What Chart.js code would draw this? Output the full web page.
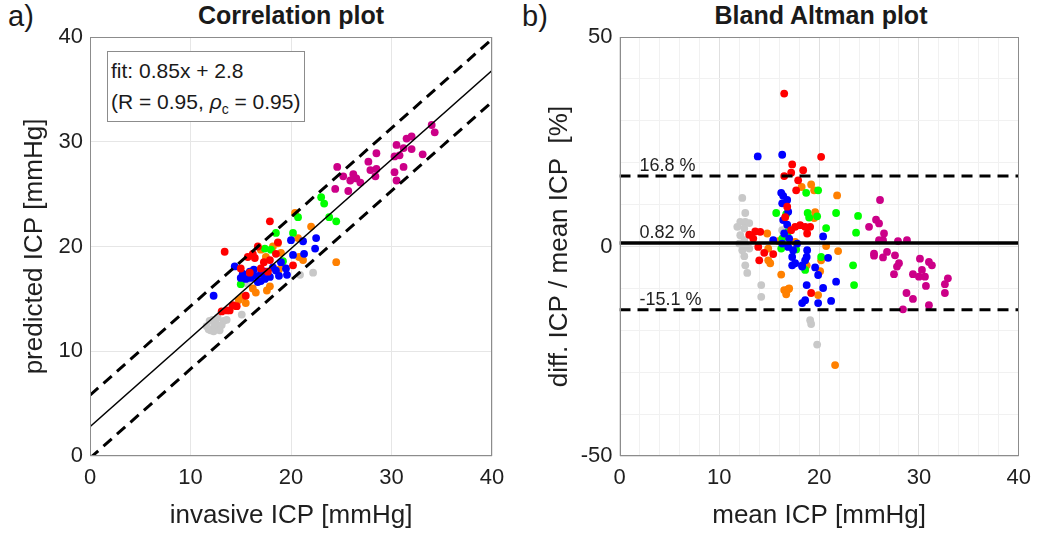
<!DOCTYPE html>
<html>
<head>
<meta charset="utf-8">
<script src="https://cdn.jsdelivr.net/npm/chart.js@4.4.1/dist/chart.umd.min.js"></script>
<style>
  body { margin: 0; background: #fff; width: 1040px; height: 533px; overflow: hidden; position: relative;
         font-family: "Liberation Sans", Arial, sans-serif; color: #1a1a1a; }
  .wrap { position: absolute; top: 0; width: 520px; height: 533px; }
  .tag { position: absolute; top: 0; font-size: 29px; }
  .title { position: absolute; top: 1px; width: 402px; text-align: center; font-weight: bold; font-size: 25px;
           font-family: "Liberation Sans Narrow", "Liberation Sans", Arial, sans-serif; }
  .fitbox { position: absolute; left: 107px; top: 51px; width: 198px; height: 71px; border: 1px solid #8c8c8c;
            background: #fff; font-size: 21px; line-height: 31px; padding: 3px 0 0 3px; box-sizing: border-box; z-index: 2; }
  .fitbox sub { font-size: 14px; vertical-align: -5px; }
</style>
</head>
<body>
<div class="tag" style="left:8px">a)</div>
<div class="tag" style="left:522px">b)</div>
<div class="title" style="left:90px">Correlation plot</div>
<div class="title" style="left:620px">Bland Altman plot</div>
<div class="fitbox">fit: 0.85x + 2.8<br>(R = 0.95, <i>ρ</i><sub>c</sub> = 0.95)</div>
<div class="wrap" style="left:0"><canvas id="corr" width="520" height="533"></canvas></div>
<div class="wrap" style="left:520px"><canvas id="ba" width="520" height="533"></canvas></div>
<script>
// correlation plot: [invasive ICP, predicted ICP]
const corrGray = [[11.6,12.4],[11.9,12.9],[12.2,13.0],[12.5,12.7],[12.8,12.2],[13.1,12.5],[12.0,12.0],[12.7,13.2],
  [13.3,12.9],[11.8,12.1],[12.4,12.4],[13.6,13.0],[12.9,12.0],[15.1,13.5],[20.9,17.3],[22.2,17.5],[12.3,11.9],[15.6,16.5]];
const corrRed = [[17.9,22.4],[13.4,19.5],[15.7,19.0],[16.7,20.0],[16.2,19.3],[18.5,19.3],[17.9,18.7],[17.0,17.9],
  [15.9,17.5],[15.0,17.9],[20.2,18.2],[18.7,20.4],[17.7,17.6],[15.5,15.3],[14.2,14.4],[13.6,13.9],[13.1,13.8],
  [13.9,13.9],[14.6,14.3],[16.4,18.9],[17.3,18.5]];
const corrBlue = [[12.3,15.3],[14.4,18.1],[15.2,17.4],[15.9,17.6],[16.4,17.2],[17.0,17.4],[17.9,17.1],[18.5,17.7],
  [19.5,17.9],[19.6,17.3],[20.0,20.6],[21.2,20.5],[22.5,20.8],[22.4,19.8],[21.3,19.3],[20.2,19.2],[17.4,16.9],
  [16.7,16.6],[15.5,16.9],[16.0,17.0],[17.0,16.7],[18.2,18.0],[19.0,18.5],[18.8,17.2],[16.3,17.8],[15.0,17.0],[17.5,17.6]];
const corrGreen = [[23.0,24.7],[23.3,24.1],[23.8,22.8],[24.5,22.4],[20.7,22.8],[20.2,21.3],[18.5,21.3],[18.0,19.7],
  [17.4,19.8],[15.0,16.4],[19.2,18.6]];
const corrOrange = [[20.4,23.2],[22.0,21.9],[18.7,20.3],[17.0,19.7],[20.7,20.8],[20.8,19.0],[21.2,18.7],[24.5,18.5],
  [19.1,18.4],[17.9,16.2],[17.6,15.8],[16.5,15.6],[15.2,15.2],[14.8,14.9],[15.5,14.6],[18.2,20.0],[19.0,19.4],
  [17.5,19.0],[16.2,16.0],[18.8,17.8],[14.5,14.3]];
const corrMagenta = [[34.0,31.6],[34.3,30.9],[32.0,30.5],[31.5,30.3],[30.5,29.7],[31.2,29.4],[32.0,29.3],[30.8,28.7],
  [30.3,28.6],[33.1,28.8],[28.5,28.9],[27.7,28.1],[28.5,27.4],[28.4,26.7],[27.9,27.3],[30.3,27.1],[31.2,27.6],
  [30.5,26.3],[24.6,27.6],[25.2,26.7],[26.2,26.9],[25.9,26.3],[26.5,26.5],[26.9,26.1],[25.7,25.3],[24.4,25.5]];
const corrLineX = [0, 40];
const fitY = [2.8, 36.8];
const upperY = [5.8, 39.8];
const lowerY = [-0.2, 33.8];

// Bland Altman plot: [mean ICP, diff %]
const baGray = [[12.3,11.6],[12.6,8.0],[12.1,5.9],[12.6,5.9],[13.0,5.6],[11.8,4.7],[12.5,4.3],[12.1,2.7],[12.5,1.5],
  [12.0,0.7],[12.6,0.3],[12.3,-0.9],[13.0,-0.5],[12.5,-2.3],[12.6,-4.5],[12.8,-6.3],[14.2,-9.2],[14.2,-12.0],
  [16.3,3.9],[19.1,-17.6],[19.2,-18.5],[19.8,-23.4]];
const baRed = [[16.5,36.5],[20.2,21.4],[17.3,19.6],[18.4,18.2],[17.2,17.6],[16.5,16.8],[17.9,15.8],[17.7,13.4],
  [16.8,9.5],[13.6,3.6],[14.1,3.5],[13.4,1.9],[13.9,-0.1],[14.5,-1.5],[14.0,-3.3],[15.4,-1.8],[17.6,4.7],[18.1,5.1],
  [18.6,4.7],[19.1,4.7],[18.8,3.1],[17.2,3.9],[19.2,-11.1],[16.6,7.0],[13.0,2.8]];
const baBlue = [[13.85,21.5],[16.3,21.9],[16.2,12.8],[16.4,12.1],[16.3,10.3],[16.8,11.1],[16.9,8.3],[16.4,6.3],
  [16.8,5.2],[16.5,3.1],[17.0,1.9],[16.3,0.7],[16.9,-0.1],[17.4,-0.9],[17.3,-2.5],[17.6,-4.0],[17.3,-4.5],[18.3,-4.5],
  [18.6,-3.3],[18.8,-0.9],[18.75,-2.5],[18.3,-4.8],[20.4,2.4],[20.9,-2.7],[19.6,-5.0],[19.9,-6.8],[18.75,-9.2],
  [20.4,-9.9],[21.7,-8.4],[21.2,-13.0],[19.9,-13.5],[18.3,-13.5],[18.6,-12.8],[15.4,1.5],[17.8,0.7]];
const baGreen = [[18.7,12.8],[19.9,13.4],[15.7,8.0],[16.7,7.7],[18.85,8.0],[19.0,6.9],[19.8,7.2],[20.7,4.4],
  [21.7,8.0],[23.9,7.3],[23.7,3.3],[16.9,3.5],[16.3,1.9],[16.2,-0.5],[17.7,-0.7],[18.6,-5.6],[20.2,-2.5],
  [23.4,-4.5],[23.5,-9.2]];
const baOrange = [[19.2,14.8],[18.25,14.2],[19.5,13.4],[21.8,12.2],[19.6,8.2],[19.5,6.8],[14.8,3.1],[15.9,1.3],
  [14.9,-0.5],[14.9,-3.3],[15.1,-4.0],[16.2,-6.7],[16.5,-10.4],[16.9,-10.2],[16.7,-11.4],[17.0,-10.0],[18.75,-4.5],
  [20.2,-3.3],[20.1,-5.9],[21.9,-1.1],[20.7,0.1],[19.9,-11.6],[21.6,-28.3],[17.6,1.1]];
const baMagenta = [[26.1,11.1],[25.7,6.4],[26.0,5.5],[25.0,4.7],[26.5,3.1],[26.0,1.5],[26.4,1.5],[27.9,1.3],
  [28.8,1.5],[25.5,-1.7],[25.5,-2.2],[26.8,-1.3],[26.4,-2.6],[27.6,-2.1],[28.0,-4.0],[27.8,-4.8],[27.5,-6.6],
  [29.4,-6.6],[30.0,-7.2],[30.6,-7.2],[30.3,-5.6],[30.1,-2.9],[31.0,-3.7],[31.3,-4.5],[30.7,-9.4],[32.9,-7.6],
  [32.6,-9.0],[32.6,-11.1],[28.75,-11.1],[29.4,-12.5],[31.0,-14.0],[28.4,-15.0]];
const baLineX = [0, 40];
const baMean = 0.82;
const baUpper = 16.8;
const baLower = -15.1;
const baLabels = ['16.8 %', '0.82 %', '-15.1 %'];
const baLabelX = 2;

const COLORS = { gray: '#c8c8c8', red: '#ff0000', blue: '#0000ff', green: '#00ff00', orange: '#ff8000', magenta: '#cc0088' };
const TEXT = '#1f1f1f';
const FONT = '"Liberation Sans", Arial, sans-serif';

const toPts = (arr) => arr.map(([x, y]) => ({ x, y }));
const dots = (arr, color) => ({ data: toPts(arr), backgroundColor: color, borderWidth: 0, pointRadius: 3.9, pointHoverRadius: 3.9 });
const line = (xs, ys, width, dash) => ({
  type: 'line', data: xs.map((x, i) => ({ x, y: ys[i] })), borderColor: '#000', borderWidth: width,
  borderDash: dash || [], pointRadius: 0, fill: false, tension: 0
});

const boxPlugin = {
  id: 'box',
  afterDraw(chart) {
    const { ctx, chartArea: a } = chart;
    ctx.save();
    ctx.strokeStyle = '#8c8c8c';
    ctx.lineWidth = 1;
    ctx.strokeRect(Math.round(a.left) + 0.5, Math.round(a.top) + 0.5, Math.round(a.right - a.left) - 1, Math.round(a.bottom - a.top) - 1);
    ctx.restore();
  }
};

function axis(min, max, step, title, fixed, titlePad, opts = {}) {
  return {
    type: 'linear', min, max,
    ticks: { stepSize: step, color: TEXT, font: { family: FONT, size: 22 }, padding: opts.tickPad || 8,
             callback: opts.cb, autoSkip: false, maxRotation: 0, minRotation: 0 },
    grid: { color: opts.gridColor || '#e6e6e6', drawTicks: false },
    border: { display: false },
    title: { display: true, text: title, color: TEXT, font: { family: FONT, size: 26 }, padding: titlePad },
    afterFit: fixed
  };
}

Chart.defaults.animation = false;

new Chart(document.getElementById('corr'), {
  type: 'scatter',
  data: {
    datasets: [
      line(corrLineX, fitY, 1.5),
      line(corrLineX, upperY, 3, [11, 7]),
      line(corrLineX, lowerY, 3, [11, 7]),
      dots(corrMagenta, COLORS.magenta),
      dots(corrRed, COLORS.red),
      dots(corrBlue, COLORS.blue),
      dots(corrGreen, COLORS.green),
      dots(corrOrange, COLORS.orange),
      dots(corrGray, COLORS.gray)
    ]
  },
  options: {
    responsive: false,
    layout: { padding: { top: 37, right: 28, left: 0, bottom: 0 } },
    plugins: { legend: { display: false }, tooltip: { enabled: false } },
    scales: {
      x: axis(0, 40, 10, 'invasive ICP [mmHg]', (s) => { s.height = 77; }, { top: 0, bottom: 2 }, { tickPad: 9 }),
      y: axis(0, 40, 10, 'predicted ICP [mmHg]', (s) => { s.width = 90; }, { top: 19, bottom: 0 }, { tickPad: 7 })
    }
  },
  plugins: [boxPlugin]
});

const baLabelPlugin = {
  id: 'baLabels',
  afterDatasetsDraw(chart) {
    const { ctx, scales } = chart;
    const values = [baUpper, baMean, baLower];
    ctx.save();
    ctx.fillStyle = TEXT;
    ctx.font = '18px ' + FONT;
    ctx.textBaseline = 'alphabetic';
    values.forEach((v, i) => {
      ctx.fillText(baLabels[i], scales.x.getPixelForValue(baLabelX), scales.y.getPixelForValue(v) - 5);
    });
    ctx.restore();
  }
};

new Chart(document.getElementById('ba'), {
  type: 'scatter',
  data: {
    datasets: [
      line(baLineX, [baMean, baMean], 3.5),
      line(baLineX, [baUpper, baUpper], 3, [11, 7]),
      line(baLineX, [baLower, baLower], 3, [11, 7]),
      dots(baMagenta, COLORS.magenta),
      dots(baRed, COLORS.red),
      dots(baBlue, COLORS.blue),
      dots(baGreen, COLORS.green),
      dots(baOrange, COLORS.orange),
      dots(baGray, COLORS.gray)
    ]
  },
  options: {
    responsive: false,
    layout: { padding: { top: 37, right: 18, left: 0, bottom: 0 } },
    plugins: { legend: { display: false }, tooltip: { enabled: false } },
    scales: {
      x: axis(0, 40, 2, 'mean ICP [mmHg]', (s) => { s.height = 77; }, { top: 0, bottom: 2 }, {
        tickPad: 9,
        cb: (v) => (v % 10 === 0 ? v : ''),
        gridColor: (c) => (c.tick && c.tick.value % 10 === 0 ? '#e0e0e0' : '#f1f1f1')
      }),
      y: axis(-50, 50, 10, 'diff. ICP / mean ICP  [%]', (s) => { s.width = 99.5; }, { top: 24, bottom: 0 }, {
        tickPad: 7,
        cb: (v) => (v % 50 === 0 ? v : ''),
        gridColor: (c) => (c.tick && c.tick.value % 50 === 0 ? '#e0e0e0' : '#f1f1f1')
      })
    }
  },
  plugins: [boxPlugin, baLabelPlugin]
});
</script>
</body>
</html>
